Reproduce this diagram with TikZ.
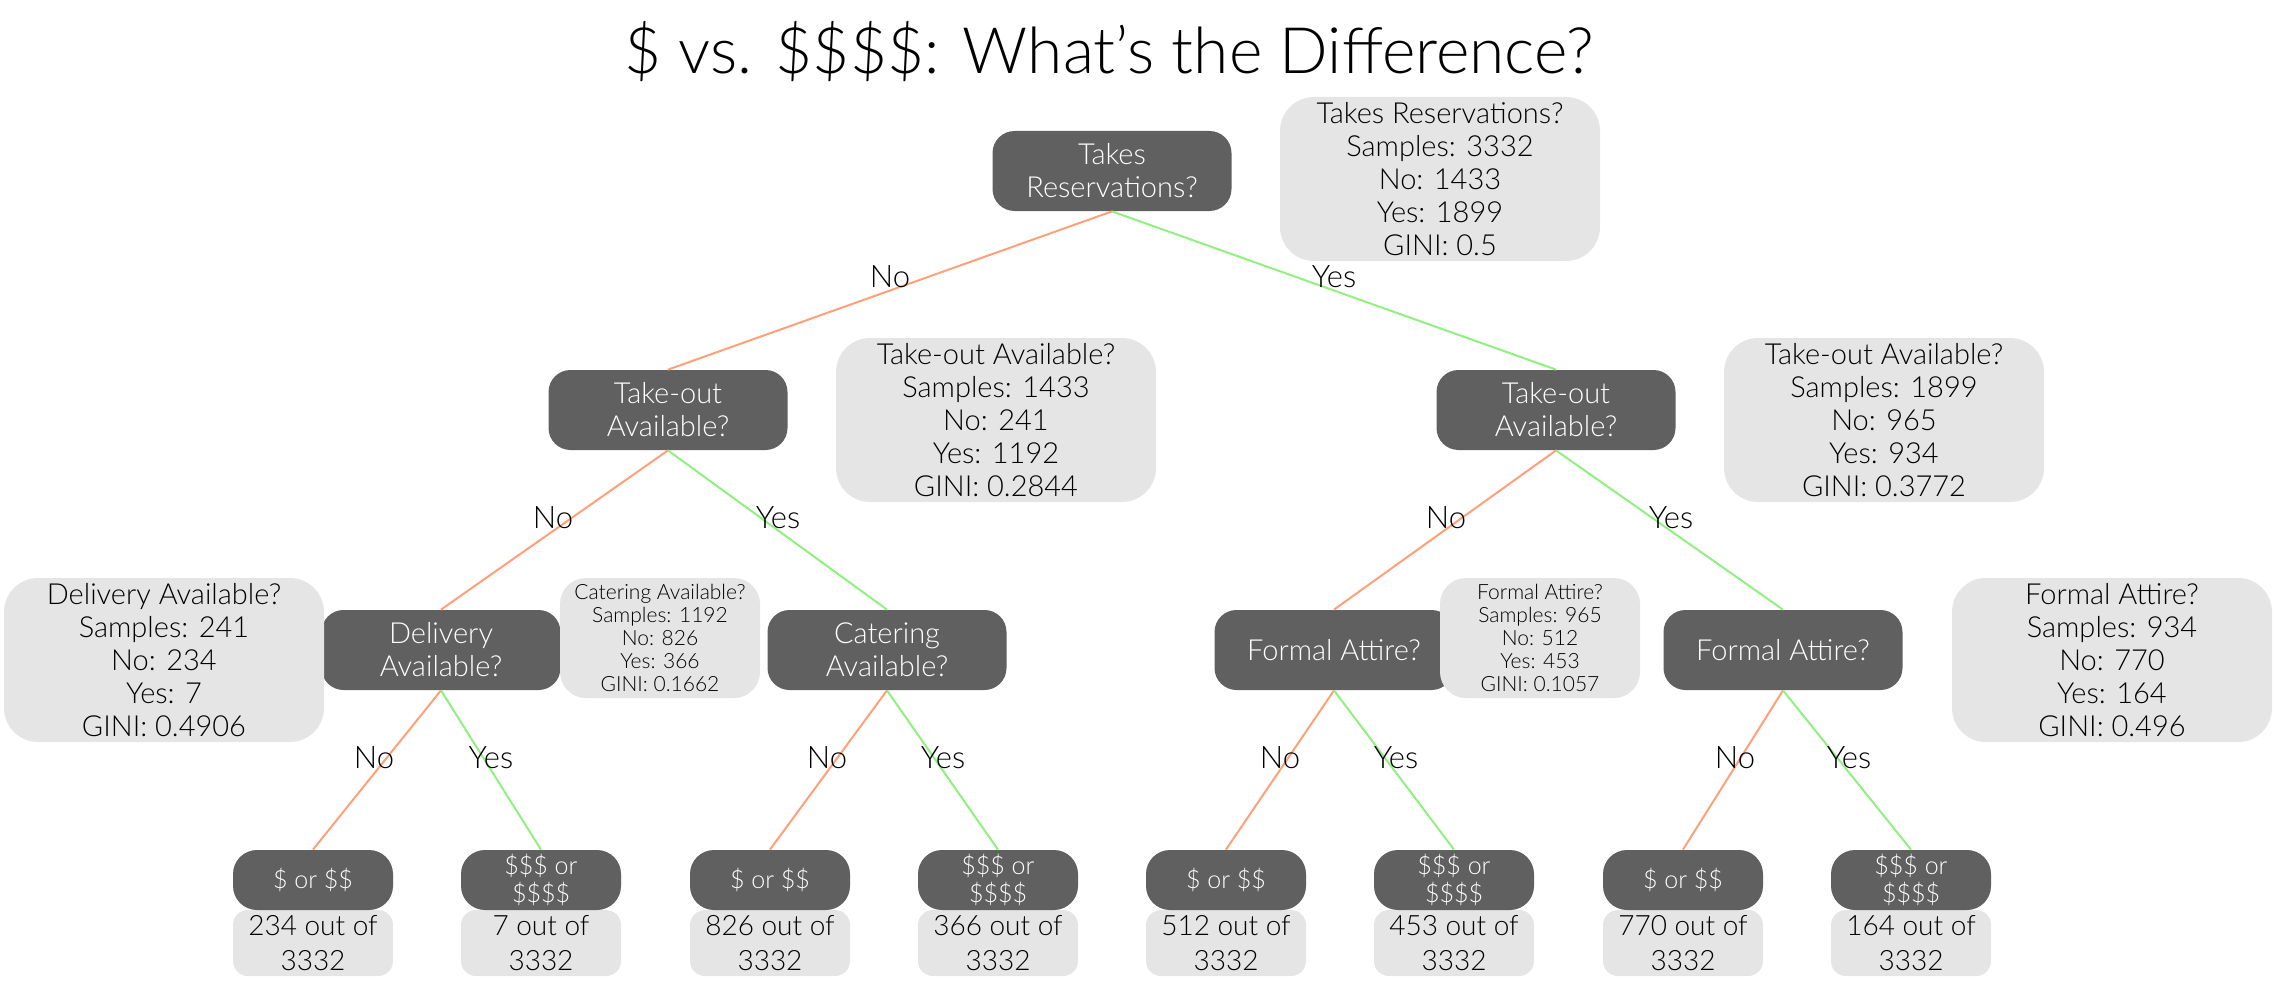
\documentclass[tikz,border=0pt]{standalone}
\usepackage{fontspec}
\setmainfont{Lato}[UprightFont=* Light]
\definecolor{dgray}{HTML}{606060}
\definecolor{lgray}{HTML}{E5E5E5}
\definecolor{noc}{HTML}{FFA07A}
\definecolor{yesc}{HTML}{90F080}
\begin{document}
\begin{tikzpicture}[x=0.5pt,y=-0.5pt,
  dec/.style={fill=dgray, text=white, rounded corners=11pt, minimum width=119.5pt, minimum height=40pt, inner sep=0pt, align=center, font=\fontsize{14.5}{16.5}\selectfont},
  info/.style={fill=lgray, text=black, rounded corners=17pt, minimum width=160pt, minimum height=82pt, inner sep=0pt, align=center, font=\fontsize{14.5}{16.5}\selectfont},
  sinfo/.style={info, rounded corners=13pt, minimum width=100pt, minimum height=60pt, font=\fontsize{10.5}{11.5}\selectfont},
  leaf/.style={dec, rounded corners=12pt, minimum width=80pt, minimum height=30pt, font=\fontsize{12.5}{14}\selectfont},
  leafinfo/.style={fill=lgray, text=black, rounded corners=7.5pt, minimum width=80pt, minimum height=33pt, inner sep=0pt, align=center, font=\fontsize{14}{17.5}\selectfont},
  lbl/.style={font=\fontsize{15.5}{17}\selectfont, inner sep=0pt},
  noedge/.style={draw=noc, line width=1pt},
  yesedge/.style={draw=yesc, line width=1pt}]
\useasboundingbox (0,0) rectangle (2276,990);

\node[font=\fontsize{32}{36}\selectfont, inner sep=0pt] (title) at (1109,52) {\$ vs. \$\$\$\$: What{\char"0027}s the Difference?};

% decision nodes
\node[dec] (root) at (1112,171) {Takes\\Reservations?};
\node[dec] (l1l) at (668,410) {Take-out\\Available?};
\node[dec] (l1r) at (1556,410) {Take-out\\Available?};
\node[dec] (del) at (441,650) {Delivery\\Available?};
\node[dec] (cat) at (887,650) {Catering\\Available?};
\node[dec] (fal) at (1334,650) {Formal Attire?};
\node[dec] (far) at (1783,650) {Formal Attire?};

% info boxes
\node[info] (iroot) at (1440,179) {Takes Reservations?\\Samples: 3332\\No: 1433\\Yes: 1899\\GINI: 0.5};
\node[info] (il1l) at (996,420) {Take-out Available?\\Samples: 1433\\No: 241\\Yes: 1192\\GINI: 0.2844};
\node[info] (il1r) at (1884,420) {Take-out Available?\\Samples: 1899\\No: 965\\Yes: 934\\GINI: 0.3772};
\node[info] (idel) at (164,660) {Delivery Available?\\Samples: 241\\No: 234\\Yes: 7\\GINI: 0.4906};
\node[sinfo] (icat) at (660,638) {Catering Available?\\Samples: 1192\\No: 826\\Yes: 366\\GINI: 0.1662};
\node[sinfo] (ifal) at (1540,638) {Formal Attire?\\Samples: 965\\No: 512\\Yes: 453\\GINI: 0.1057};
\node[info] (ifar) at (2112,660) {Formal Attire?\\Samples: 934\\No: 770\\Yes: 164\\GINI: 0.496};

% leaves
\node[leafinfo] (i1) at (313,943) {234 out of\\3332};
\node[leafinfo] (i2) at (541,943) {7 out of\\3332};
\node[leafinfo] (i3) at (770,943) {826 out of\\3332};
\node[leafinfo] (i4) at (998,943) {366 out of\\3332};
\node[leafinfo] (i5) at (1226,943) {512 out of\\3332};
\node[leafinfo] (i6) at (1454,943) {453 out of\\3332};
\node[leafinfo] (i7) at (1683,943) {770 out of\\3332};
\node[leafinfo] (i8) at (1911,943) {164 out of\\3332};
\node[leaf] (f1) at (313,880) {\$ or \$\$};
\node[leaf] (f2) at (541,880) {\$\$\$ or\\\$\$\$\$};
\node[leaf] (f3) at (770,880) {\$ or \$\$};
\node[leaf] (f4) at (998,880) {\$\$\$ or\\\$\$\$\$};
\node[leaf] (f5) at (1226,880) {\$ or \$\$};
\node[leaf] (f6) at (1454,880) {\$\$\$ or\\\$\$\$\$};
\node[leaf] (f7) at (1683,880) {\$ or \$\$};
\node[leaf] (f8) at (1911,880) {\$\$\$ or\\\$\$\$\$};

% edges
\draw[noedge] (root.south) -- (l1l.north);
\draw[yesedge] (root.south) -- (l1r.north);
\draw[noedge] (l1l.south) -- (del.north);
\draw[yesedge] (l1l.south) -- (cat.north);
\draw[noedge] (l1r.south) -- (fal.north);
\draw[yesedge] (l1r.south) -- (far.north);
\draw[noedge] (del.south) -- (f1.north);
\draw[yesedge] (del.south) -- (f2.north);
\draw[noedge] (cat.south) -- (f3.north);
\draw[yesedge] (cat.south) -- (f4.north);
\draw[noedge] (fal.south) -- (f5.north);
\draw[yesedge] (fal.south) -- (f6.north);
\draw[noedge] (far.south) -- (f7.north);
\draw[yesedge] (far.south) -- (f8.north);

% labels
\node[lbl] (n0) at (890,277) {No};
\node[lbl] (y0) at (1334,277) {Yes};
\node[lbl] (n1) at (553,518) {No};
\node[lbl] (y1) at (778,518) {Yes};
\node[lbl] (n2) at (1446,518) {No};
\node[lbl] (y2) at (1671,518) {Yes};
\node[lbl] (n3) at (374,758) {No};
\node[lbl] (y3) at (491,758) {Yes};
\node[lbl] (n4) at (827,758) {No};
\node[lbl] (y4) at (943,758) {Yes};
\node[lbl] (n5) at (1280,758) {No};
\node[lbl] (y5) at (1396,758) {Yes};
\node[lbl] (n6) at (1735,758) {No};
\node[lbl] (y6) at (1849,758) {Yes};
\end{tikzpicture}
\end{document}
